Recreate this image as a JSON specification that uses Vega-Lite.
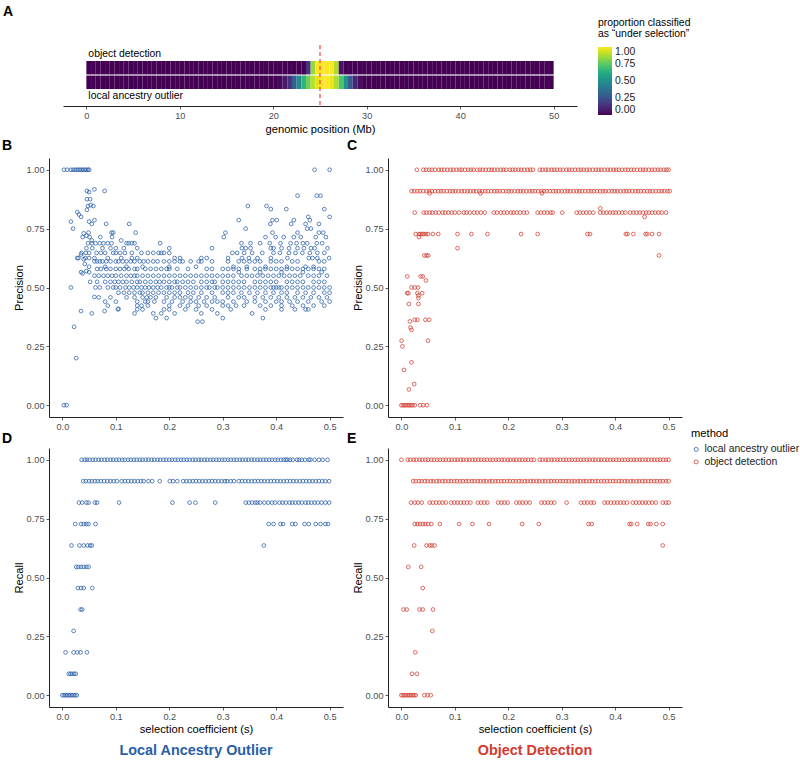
{
"$schema":"https://vega.github.io/schema/vega-lite/v6.json",
"padding":{"left":2,"top":5,"right":0,"bottom":0},
"config":{
 "font":"Liberation Sans",
 "view":{"stroke":null},
 "axis":{"domainColor":"#222","domainWidth":1,"tickColor":"#333","tickSize":3,"tickWidth":0.8,"labelColor":"#4d4d4d","labelFontSize":9.2,"labelPadding":2,"titleFontSize":11.2,"titleFontWeight":"normal","titleColor":"#000","grid":false,"labelFont":"Liberation Sans","titleFont":"Liberation Sans"},
 "axisX":{"titlePadding":2},
 "axisY":{"titlePadding":2},
 "title":{"fontSize":14,"fontWeight":"bold","anchor":"start","frame":"group","baseline":"alphabetic","color":"#000","font":"Liberation Sans"},
 "legend":{"labelFont":"Liberation Sans","titleFont":"Liberation Sans","labelColor":"#222","titleColor":"#000","padding":0}
},
"datasets":{
"heat":[
{"m":"OD","p":0,"v":0},{"m":"OD","p":0.5,"v":0},{"m":"OD","p":1,"v":0},{"m":"OD","p":1.5,"v":0},{"m":"OD","p":2,"v":0},{"m":"OD","p":2.5,"v":0},{"m":"OD","p":3,"v":0},{"m":"OD","p":3.5,"v":0},{"m":"OD","p":4,"v":0},{"m":"OD","p":4.5,"v":0},
{"m":"OD","p":5,"v":0},{"m":"OD","p":5.5,"v":0},{"m":"OD","p":6,"v":0},{"m":"OD","p":6.5,"v":0},{"m":"OD","p":7,"v":0},{"m":"OD","p":7.5,"v":0},{"m":"OD","p":8,"v":0},{"m":"OD","p":8.5,"v":0},{"m":"OD","p":9,"v":0},{"m":"OD","p":9.5,"v":0},
{"m":"OD","p":10,"v":0},{"m":"OD","p":10.5,"v":0},{"m":"OD","p":11,"v":0},{"m":"OD","p":11.5,"v":0},{"m":"OD","p":12,"v":0},{"m":"OD","p":12.5,"v":0},{"m":"OD","p":13,"v":0},{"m":"OD","p":13.5,"v":0},{"m":"OD","p":14,"v":0},{"m":"OD","p":14.5,"v":0},
{"m":"OD","p":15,"v":0},{"m":"OD","p":15.5,"v":0},{"m":"OD","p":16,"v":0},{"m":"OD","p":16.5,"v":0},{"m":"OD","p":17,"v":0},{"m":"OD","p":17.5,"v":0},{"m":"OD","p":18,"v":0},{"m":"OD","p":18.5,"v":0},{"m":"OD","p":19,"v":0},{"m":"OD","p":19.5,"v":0},
{"m":"OD","p":20,"v":0},{"m":"OD","p":20.5,"v":0},{"m":"OD","p":21,"v":0},{"m":"OD","p":21.5,"v":0},{"m":"OD","p":22,"v":0},{"m":"OD","p":22.5,"v":0},{"m":"OD","p":23,"v":0},{"m":"OD","p":23.5,"v":0.15},{"m":"OD","p":24,"v":0.85},{"m":"OD","p":24.5,"v":1},
{"m":"OD","p":25,"v":1},{"m":"OD","p":25.5,"v":1},{"m":"OD","p":26,"v":1},{"m":"OD","p":26.5,"v":0.88},{"m":"OD","p":27,"v":0.05},{"m":"OD","p":27.5,"v":0},{"m":"OD","p":28,"v":0},{"m":"OD","p":28.5,"v":0},{"m":"OD","p":29,"v":0},{"m":"OD","p":29.5,"v":0},
{"m":"OD","p":30,"v":0},{"m":"OD","p":30.5,"v":0},{"m":"OD","p":31,"v":0},{"m":"OD","p":31.5,"v":0},{"m":"OD","p":32,"v":0},{"m":"OD","p":32.5,"v":0},{"m":"OD","p":33,"v":0},{"m":"OD","p":33.5,"v":0},{"m":"OD","p":34,"v":0},{"m":"OD","p":34.5,"v":0},
{"m":"OD","p":35,"v":0},{"m":"OD","p":35.5,"v":0},{"m":"OD","p":36,"v":0},{"m":"OD","p":36.5,"v":0},{"m":"OD","p":37,"v":0},{"m":"OD","p":37.5,"v":0},{"m":"OD","p":38,"v":0},{"m":"OD","p":38.5,"v":0},{"m":"OD","p":39,"v":0},{"m":"OD","p":39.5,"v":0},
{"m":"OD","p":40,"v":0},{"m":"OD","p":40.5,"v":0},{"m":"OD","p":41,"v":0},{"m":"OD","p":41.5,"v":0},{"m":"OD","p":42,"v":0},{"m":"OD","p":42.5,"v":0},{"m":"OD","p":43,"v":0},{"m":"OD","p":43.5,"v":0},{"m":"OD","p":44,"v":0},{"m":"OD","p":44.5,"v":0},
{"m":"OD","p":45,"v":0},{"m":"OD","p":45.5,"v":0},{"m":"OD","p":46,"v":0},{"m":"OD","p":46.5,"v":0},{"m":"OD","p":47,"v":0},{"m":"OD","p":47.5,"v":0},{"m":"OD","p":48,"v":0},{"m":"OD","p":48.5,"v":0},{"m":"OD","p":49,"v":0},{"m":"OD","p":49.5,"v":0},
{"m":"LAO","p":0,"v":0},{"m":"LAO","p":0.5,"v":0},{"m":"LAO","p":1,"v":0},{"m":"LAO","p":1.5,"v":0},{"m":"LAO","p":2,"v":0},{"m":"LAO","p":2.5,"v":0},{"m":"LAO","p":3,"v":0},{"m":"LAO","p":3.5,"v":0},{"m":"LAO","p":4,"v":0},{"m":"LAO","p":4.5,"v":0},
{"m":"LAO","p":5,"v":0},{"m":"LAO","p":5.5,"v":0},{"m":"LAO","p":6,"v":0},{"m":"LAO","p":6.5,"v":0},{"m":"LAO","p":7,"v":0},{"m":"LAO","p":7.5,"v":0},{"m":"LAO","p":8,"v":0},{"m":"LAO","p":8.5,"v":0},{"m":"LAO","p":9,"v":0},{"m":"LAO","p":9.5,"v":0},
{"m":"LAO","p":10,"v":0},{"m":"LAO","p":10.5,"v":0},{"m":"LAO","p":11,"v":0},{"m":"LAO","p":11.5,"v":0},{"m":"LAO","p":12,"v":0},{"m":"LAO","p":12.5,"v":0},{"m":"LAO","p":13,"v":0},{"m":"LAO","p":13.5,"v":0},{"m":"LAO","p":14,"v":0},{"m":"LAO","p":14.5,"v":0},
{"m":"LAO","p":15,"v":0},{"m":"LAO","p":15.5,"v":0},{"m":"LAO","p":16,"v":0},{"m":"LAO","p":16.5,"v":0},{"m":"LAO","p":17,"v":0},{"m":"LAO","p":17.5,"v":0},{"m":"LAO","p":18,"v":0},{"m":"LAO","p":18.5,"v":0},{"m":"LAO","p":19,"v":0},{"m":"LAO","p":19.5,"v":0},
{"m":"LAO","p":20,"v":0},{"m":"LAO","p":20.5,"v":0.02},{"m":"LAO","p":21,"v":0.06},{"m":"LAO","p":21.5,"v":0.14},{"m":"LAO","p":22,"v":0.3},{"m":"LAO","p":22.5,"v":0.48},{"m":"LAO","p":23,"v":0.65},{"m":"LAO","p":23.5,"v":0.78},{"m":"LAO","p":24,"v":0.9},{"m":"LAO","p":24.5,"v":0.96},
{"m":"LAO","p":25,"v":0.99},{"m":"LAO","p":25.5,"v":1},{"m":"LAO","p":26,"v":0.97},{"m":"LAO","p":26.5,"v":0.88},{"m":"LAO","p":27,"v":0.72},{"m":"LAO","p":27.5,"v":0.5},{"m":"LAO","p":28,"v":0.28},{"m":"LAO","p":28.5,"v":0.1},{"m":"LAO","p":29,"v":0.03},{"m":"LAO","p":29.5,"v":0},
{"m":"LAO","p":30,"v":0},{"m":"LAO","p":30.5,"v":0},{"m":"LAO","p":31,"v":0},{"m":"LAO","p":31.5,"v":0},{"m":"LAO","p":32,"v":0},{"m":"LAO","p":32.5,"v":0},{"m":"LAO","p":33,"v":0},{"m":"LAO","p":33.5,"v":0},{"m":"LAO","p":34,"v":0},{"m":"LAO","p":34.5,"v":0},
{"m":"LAO","p":35,"v":0},{"m":"LAO","p":35.5,"v":0},{"m":"LAO","p":36,"v":0},{"m":"LAO","p":36.5,"v":0},{"m":"LAO","p":37,"v":0},{"m":"LAO","p":37.5,"v":0},{"m":"LAO","p":38,"v":0},{"m":"LAO","p":38.5,"v":0},{"m":"LAO","p":39,"v":0},{"m":"LAO","p":39.5,"v":0},
{"m":"LAO","p":40,"v":0},{"m":"LAO","p":40.5,"v":0},{"m":"LAO","p":41,"v":0},{"m":"LAO","p":41.5,"v":0},{"m":"LAO","p":42,"v":0},{"m":"LAO","p":42.5,"v":0},{"m":"LAO","p":43,"v":0},{"m":"LAO","p":43.5,"v":0},{"m":"LAO","p":44,"v":0},{"m":"LAO","p":44.5,"v":0},
{"m":"LAO","p":45,"v":0},{"m":"LAO","p":45.5,"v":0},{"m":"LAO","p":46,"v":0},{"m":"LAO","p":46.5,"v":0},{"m":"LAO","p":47,"v":0},{"m":"LAO","p":47.5,"v":0},{"m":"LAO","p":48,"v":0},{"m":"LAO","p":48.5,"v":0},{"m":"LAO","p":49,"v":0},{"m":"LAO","p":49.5,"v":0}
],
"pl":[
{"s":0.003,"v":1},{"s":0.009,"v":1},{"s":0.016,"v":1},{"s":0.02,"v":1},{"s":0.024,"v":1},{"s":0.027,"v":1},{"s":0.03,"v":1},{"s":0.033,"v":1},{"s":0.036,"v":1},{"s":0.039,"v":1},{"s":0.042,"v":1},{"s":0.045,"v":1},{"s":0.048,"v":1},{"s":0.05,"v":1},{"s":0.472,"v":1},{"s":0.5,"v":1},
{"s":0.003,"v":0},{"s":0.008,"v":0},
{"s":0.026,"v":0.2},{"s":0.022,"v":0.333},{"s":0.016,"v":0.5},{"s":0.035,"v":0.4},{"s":0.055,"v":0.39},{"s":0.079,"v":0.4},{"s":0.105,"v":0.41},
{"s":0.046,"v":0.91},{"s":0.05,"v":0.905},{"s":0.06,"v":0.917},{"s":0.079,"v":0.91},{"s":0.046,"v":0.875},{"s":0.052,"v":0.875},{"s":0.053,"v":0.85},{"s":0.058,"v":0.846},{"s":0.048,"v":0.846},{"s":0.046,"v":0.83},{"s":0.031,"v":0.81},{"s":0.035,"v":0.8},{"s":0.028,"v":0.82},{"s":0.016,"v":0.78},{"s":0.05,"v":0.78},{"s":0.06,"v":0.786},{"s":0.055,"v":0.77},{"s":0.082,"v":0.77},{"s":0.125,"v":0.77},{"s":0.02,"v":0.75},{"s":0.04,"v":0.73},{"s":0.049,"v":0.733},{"s":0.045,"v":0.72},{"s":0.092,"v":0.733},{"s":0.095,"v":0.733},{"s":0.137,"v":0.733},{"s":0.038,"v":0.714},{"s":0.051,"v":0.714},{"s":0.055,"v":0.7},{"s":0.071,"v":0.714},{"s":0.093,"v":0.714},{"s":0.11,"v":0.7},{"s":0.035,"v":0.64},{"s":0.03,"v":0.625},{"s":0.042,"v":0.6},{"s":0.038,"v":0.56},{"s":0.06,"v":0.46},{"s":0.045,"v":0.57},{"s":0.04,"v":0.62},
{"s":0.44,"v":0.89},{"s":0.476,"v":0.89},{"s":0.483,"v":0.89},{"s":0.347,"v":0.846},{"s":0.382,"v":0.846},{"s":0.39,"v":0.833},{"s":0.419,"v":0.833},{"s":0.49,"v":0.833},{"s":0.5,"v":0.8},{"s":0.46,"v":0.8},{"s":0.33,"v":0.786},{"s":0.393,"v":0.786},{"s":0.401,"v":0.786},{"s":0.433,"v":0.786},{"s":0.463,"v":0.786},{"s":0.389,"v":0.77},{"s":0.428,"v":0.77},{"s":0.455,"v":0.77},{"s":0.48,"v":0.77},{"s":0.343,"v":0.75},{"s":0.458,"v":0.75},{"s":0.465,"v":0.75},{"s":0.305,"v":0.733},{"s":0.393,"v":0.733},{"s":0.48,"v":0.733},{"s":0.488,"v":0.733},{"s":0.44,"v":0.733},{"s":0.302,"v":0.714},{"s":0.38,"v":0.714},{"s":0.399,"v":0.714},{"s":0.414,"v":0.714},{"s":0.433,"v":0.714},{"s":0.446,"v":0.714},{"s":0.474,"v":0.714},{"s":0.493,"v":0.714},
{"s":0.048,"v":0.688},{"s":0.055,"v":0.688},{"s":0.062,"v":0.688},{"s":0.07,"v":0.688},{"s":0.077,"v":0.688},{"s":0.085,"v":0.688},{"s":0.092,"v":0.688},{"s":0.12,"v":0.688},{"s":0.124,"v":0.688},{"s":0.13,"v":0.688},{"s":0.135,"v":0.688},{"s":0.183,"v":0.688},{"s":0.335,"v":0.688},{"s":0.352,"v":0.688},{"s":0.37,"v":0.688},{"s":0.388,"v":0.688},{"s":0.408,"v":0.688},{"s":0.427,"v":0.688},{"s":0.438,"v":0.688},{"s":0.45,"v":0.688},{"s":0.458,"v":0.688},{"s":0.476,"v":0.688},{"s":0.486,"v":0.688},
{"s":0.045,"v":0.667},{"s":0.056,"v":0.667},{"s":0.075,"v":0.667},{"s":0.09,"v":0.667},{"s":0.1,"v":0.667},{"s":0.115,"v":0.667},{"s":0.14,"v":0.667},{"s":0.2,"v":0.667},{"s":0.28,"v":0.667},{"s":0.336,"v":0.667},{"s":0.343,"v":0.667},{"s":0.352,"v":0.667},{"s":0.39,"v":0.667},{"s":0.395,"v":0.667},{"s":0.41,"v":0.667},{"s":0.424,"v":0.667},{"s":0.44,"v":0.667},{"s":0.452,"v":0.667},{"s":0.465,"v":0.667},{"s":0.472,"v":0.667},{"s":0.496,"v":0.667},
{"s":0.036,"v":0.647},{"s":0.044,"v":0.647},{"s":0.05,"v":0.647},{"s":0.064,"v":0.647},{"s":0.072,"v":0.647},{"s":0.08,"v":0.647},{"s":0.095,"v":0.647},{"s":0.1,"v":0.647},{"s":0.108,"v":0.647},{"s":0.117,"v":0.647},{"s":0.13,"v":0.647},{"s":0.148,"v":0.647},{"s":0.16,"v":0.647},{"s":0.17,"v":0.647},{"s":0.18,"v":0.647},{"s":0.185,"v":0.647},{"s":0.19,"v":0.647},{"s":0.2,"v":0.647},{"s":0.318,"v":0.647},{"s":0.327,"v":0.647},{"s":0.34,"v":0.647},{"s":0.355,"v":0.647},{"s":0.374,"v":0.647},{"s":0.395,"v":0.647},{"s":0.407,"v":0.647},{"s":0.424,"v":0.647},{"s":0.436,"v":0.647},{"s":0.449,"v":0.647},{"s":0.463,"v":0.647},{"s":0.477,"v":0.647},{"s":0.49,"v":0.647},
{"s":0.028,"v":0.625},{"s":0.043,"v":0.625},{"s":0.05,"v":0.625},{"s":0.06,"v":0.625},{"s":0.085,"v":0.625},{"s":0.11,"v":0.625},{"s":0.13,"v":0.625},{"s":0.14,"v":0.625},{"s":0.21,"v":0.625},{"s":0.22,"v":0.625},{"s":0.26,"v":0.625},{"s":0.27,"v":0.625},{"s":0.31,"v":0.625},{"s":0.336,"v":0.625},{"s":0.349,"v":0.625},{"s":0.365,"v":0.625},{"s":0.39,"v":0.625},{"s":0.421,"v":0.625},{"s":0.461,"v":0.625},{"s":0.468,"v":0.625},{"s":0.477,"v":0.625},{"s":0.499,"v":0.625},
{"s":0.06,"v":0.611},{"s":0.065,"v":0.611},{"s":0.07,"v":0.611},{"s":0.075,"v":0.611},{"s":0.082,"v":0.611},{"s":0.09,"v":0.611},{"s":0.1,"v":0.611},{"s":0.105,"v":0.611},{"s":0.113,"v":0.611},{"s":0.12,"v":0.611},{"s":0.128,"v":0.611},{"s":0.135,"v":0.611},{"s":0.145,"v":0.611},{"s":0.152,"v":0.611},{"s":0.16,"v":0.611},{"s":0.17,"v":0.611},{"s":0.178,"v":0.611},{"s":0.19,"v":0.611},{"s":0.2,"v":0.611},{"s":0.21,"v":0.611},{"s":0.22,"v":0.611},{"s":0.225,"v":0.611},{"s":0.24,"v":0.611},{"s":0.255,"v":0.611},{"s":0.26,"v":0.611},{"s":0.28,"v":0.611},{"s":0.31,"v":0.611},{"s":0.33,"v":0.611},{"s":0.34,"v":0.611},{"s":0.35,"v":0.611},{"s":0.36,"v":0.611},{"s":0.37,"v":0.611},{"s":0.39,"v":0.611},{"s":0.4,"v":0.611},{"s":0.41,"v":0.611},{"s":0.43,"v":0.611},{"s":0.44,"v":0.611},{"s":0.48,"v":0.611},{"s":0.49,"v":0.611},
{"s":0.05,"v":0.588},{"s":0.08,"v":0.588},{"s":0.12,"v":0.588},{"s":0.15,"v":0.588},{"s":0.2,"v":0.588},{"s":0.25,"v":0.588},{"s":0.32,"v":0.588},{"s":0.345,"v":0.588},{"s":0.38,"v":0.588},{"s":0.42,"v":0.588},{"s":0.455,"v":0.588},{"s":0.47,"v":0.588},
{"s":0.065,"v":0.579},{"s":0.072,"v":0.579},{"s":0.082,"v":0.579},{"s":0.09,"v":0.579},{"s":0.1,"v":0.579},{"s":0.108,"v":0.579},{"s":0.116,"v":0.579},{"s":0.124,"v":0.579},{"s":0.135,"v":0.579},{"s":0.14,"v":0.579},{"s":0.155,"v":0.579},{"s":0.165,"v":0.579},{"s":0.175,"v":0.579},{"s":0.185,"v":0.579},{"s":0.195,"v":0.579},{"s":0.2,"v":0.579},{"s":0.215,"v":0.579},{"s":0.235,"v":0.579},{"s":0.27,"v":0.579},{"s":0.28,"v":0.579},{"s":0.3,"v":0.579},{"s":0.31,"v":0.579},{"s":0.32,"v":0.579},{"s":0.33,"v":0.579},{"s":0.345,"v":0.579},{"s":0.36,"v":0.579},{"s":0.37,"v":0.579},{"s":0.38,"v":0.579},{"s":0.39,"v":0.579},{"s":0.4,"v":0.579},{"s":0.41,"v":0.579},{"s":0.42,"v":0.579},{"s":0.43,"v":0.579},{"s":0.44,"v":0.579},{"s":0.45,"v":0.579},{"s":0.46,"v":0.579},{"s":0.47,"v":0.579},{"s":0.48,"v":0.579},{"s":0.49,"v":0.579},
{"s":0.035,"v":0.565},{"s":0.05,"v":0.565},{"s":0.33,"v":0.565},{"s":0.37,"v":0.565},{"s":0.41,"v":0.565},{"s":0.45,"v":0.565},{"s":0.485,"v":0.565},
{"s":0.06,"v":0.55},{"s":0.068,"v":0.55},{"s":0.077,"v":0.55},{"s":0.085,"v":0.55},{"s":0.093,"v":0.55},{"s":0.1,"v":0.55},{"s":0.11,"v":0.55},{"s":0.12,"v":0.55},{"s":0.128,"v":0.55},{"s":0.135,"v":0.55},{"s":0.14,"v":0.55},{"s":0.15,"v":0.55},{"s":0.16,"v":0.55},{"s":0.17,"v":0.55},{"s":0.18,"v":0.55},{"s":0.19,"v":0.55},{"s":0.2,"v":0.55},{"s":0.21,"v":0.55},{"s":0.22,"v":0.55},{"s":0.23,"v":0.55},{"s":0.24,"v":0.55},{"s":0.25,"v":0.55},{"s":0.26,"v":0.55},{"s":0.27,"v":0.55},{"s":0.28,"v":0.55},{"s":0.29,"v":0.55},{"s":0.3,"v":0.55},{"s":0.31,"v":0.55},{"s":0.32,"v":0.55},{"s":0.335,"v":0.55},{"s":0.345,"v":0.55},{"s":0.355,"v":0.55},{"s":0.365,"v":0.55},{"s":0.375,"v":0.55},{"s":0.385,"v":0.55},{"s":0.395,"v":0.55},{"s":0.405,"v":0.55},{"s":0.415,"v":0.55},{"s":0.425,"v":0.55},{"s":0.435,"v":0.55},{"s":0.445,"v":0.55},{"s":0.46,"v":0.55},{"s":0.47,"v":0.55},{"s":0.48,"v":0.55},{"s":0.495,"v":0.55},
{"s":0.052,"v":0.524},{"s":0.065,"v":0.524},{"s":0.08,"v":0.524},{"s":0.09,"v":0.524},{"s":0.098,"v":0.524},{"s":0.105,"v":0.524},{"s":0.113,"v":0.524},{"s":0.12,"v":0.524},{"s":0.13,"v":0.524},{"s":0.14,"v":0.524},{"s":0.145,"v":0.524},{"s":0.155,"v":0.524},{"s":0.165,"v":0.524},{"s":0.175,"v":0.524},{"s":0.182,"v":0.524},{"s":0.19,"v":0.524},{"s":0.2,"v":0.524},{"s":0.21,"v":0.524},{"s":0.215,"v":0.524},{"s":0.225,"v":0.524},{"s":0.235,"v":0.524},{"s":0.245,"v":0.524},{"s":0.26,"v":0.524},{"s":0.27,"v":0.524},{"s":0.28,"v":0.524},{"s":0.285,"v":0.524},{"s":0.3,"v":0.524},{"s":0.31,"v":0.524},{"s":0.32,"v":0.524},{"s":0.33,"v":0.524},{"s":0.34,"v":0.524},{"s":0.36,"v":0.524},{"s":0.37,"v":0.524},{"s":0.38,"v":0.524},{"s":0.39,"v":0.524},{"s":0.4,"v":0.524},{"s":0.42,"v":0.524},{"s":0.43,"v":0.524},{"s":0.44,"v":0.524},{"s":0.45,"v":0.524},{"s":0.47,"v":0.524},{"s":0.48,"v":0.524},{"s":0.49,"v":0.524},
{"s":0.062,"v":0.5},{"s":0.07,"v":0.5},{"s":0.085,"v":0.5},{"s":0.095,"v":0.5},{"s":0.1,"v":0.5},{"s":0.108,"v":0.5},{"s":0.118,"v":0.5},{"s":0.125,"v":0.5},{"s":0.133,"v":0.5},{"s":0.14,"v":0.5},{"s":0.148,"v":0.5},{"s":0.155,"v":0.5},{"s":0.162,"v":0.5},{"s":0.17,"v":0.5},{"s":0.178,"v":0.5},{"s":0.185,"v":0.5},{"s":0.195,"v":0.5},{"s":0.2,"v":0.5},{"s":0.205,"v":0.5},{"s":0.215,"v":0.5},{"s":0.22,"v":0.5},{"s":0.23,"v":0.5},{"s":0.24,"v":0.5},{"s":0.25,"v":0.5},{"s":0.26,"v":0.5},{"s":0.27,"v":0.5},{"s":0.275,"v":0.5},{"s":0.285,"v":0.5},{"s":0.29,"v":0.5},{"s":0.3,"v":0.5},{"s":0.31,"v":0.5},{"s":0.32,"v":0.5},{"s":0.33,"v":0.5},{"s":0.34,"v":0.5},{"s":0.35,"v":0.5},{"s":0.36,"v":0.5},{"s":0.37,"v":0.5},{"s":0.38,"v":0.5},{"s":0.39,"v":0.5},{"s":0.395,"v":0.5},{"s":0.4,"v":0.5},{"s":0.405,"v":0.5},{"s":0.41,"v":0.5},{"s":0.42,"v":0.5},{"s":0.43,"v":0.5},{"s":0.44,"v":0.5},{"s":0.45,"v":0.5},{"s":0.46,"v":0.5},{"s":0.47,"v":0.5},{"s":0.48,"v":0.5},{"s":0.49,"v":0.5},{"s":0.5,"v":0.5},
{"s":0.105,"v":0.478},{"s":0.115,"v":0.478},{"s":0.125,"v":0.478},{"s":0.135,"v":0.478},{"s":0.145,"v":0.478},{"s":0.15,"v":0.478},{"s":0.16,"v":0.478},{"s":0.17,"v":0.478},{"s":0.18,"v":0.478},{"s":0.19,"v":0.478},{"s":0.2,"v":0.478},{"s":0.21,"v":0.478},{"s":0.22,"v":0.478},{"s":0.235,"v":0.478},{"s":0.245,"v":0.478},{"s":0.26,"v":0.478},{"s":0.28,"v":0.478},{"s":0.3,"v":0.478},{"s":0.31,"v":0.478},{"s":0.32,"v":0.478},{"s":0.335,"v":0.478},{"s":0.35,"v":0.478},{"s":0.365,"v":0.478},{"s":0.38,"v":0.478},{"s":0.395,"v":0.478},{"s":0.41,"v":0.478},{"s":0.42,"v":0.478},{"s":0.44,"v":0.478},{"s":0.455,"v":0.478},{"s":0.47,"v":0.478},{"s":0.49,"v":0.478},{"s":0.5,"v":0.478},
{"s":0.068,"v":0.458},{"s":0.09,"v":0.458},{"s":0.12,"v":0.458},{"s":0.135,"v":0.458},{"s":0.15,"v":0.458},{"s":0.158,"v":0.458},{"s":0.165,"v":0.458},{"s":0.175,"v":0.458},{"s":0.195,"v":0.458},{"s":0.21,"v":0.458},{"s":0.22,"v":0.458},{"s":0.23,"v":0.458},{"s":0.24,"v":0.458},{"s":0.255,"v":0.458},{"s":0.27,"v":0.458},{"s":0.285,"v":0.458},{"s":0.31,"v":0.458},{"s":0.33,"v":0.458},{"s":0.34,"v":0.458},{"s":0.36,"v":0.458},{"s":0.375,"v":0.458},{"s":0.39,"v":0.458},{"s":0.405,"v":0.458},{"s":0.42,"v":0.458},{"s":0.435,"v":0.458},{"s":0.45,"v":0.458},{"s":0.465,"v":0.458},{"s":0.48,"v":0.458},{"s":0.495,"v":0.458},
{"s":0.08,"v":0.44},{"s":0.1,"v":0.44},{"s":0.14,"v":0.44},{"s":0.155,"v":0.44},{"s":0.16,"v":0.44},{"s":0.172,"v":0.44},{"s":0.19,"v":0.44},{"s":0.205,"v":0.44},{"s":0.225,"v":0.44},{"s":0.24,"v":0.44},{"s":0.25,"v":0.44},{"s":0.265,"v":0.44},{"s":0.28,"v":0.44},{"s":0.29,"v":0.44},{"s":0.3,"v":0.44},{"s":0.32,"v":0.44},{"s":0.345,"v":0.44},{"s":0.36,"v":0.44},{"s":0.38,"v":0.44},{"s":0.4,"v":0.44},{"s":0.41,"v":0.44},{"s":0.425,"v":0.44},{"s":0.44,"v":0.44},{"s":0.46,"v":0.44},{"s":0.485,"v":0.44},{"s":0.5,"v":0.44},
{"s":0.085,"v":0.423},{"s":0.14,"v":0.423},{"s":0.148,"v":0.423},{"s":0.16,"v":0.423},{"s":0.2,"v":0.423},{"s":0.22,"v":0.423},{"s":0.235,"v":0.423},{"s":0.255,"v":0.423},{"s":0.27,"v":0.423},{"s":0.3,"v":0.423},{"s":0.31,"v":0.423},{"s":0.325,"v":0.423},{"s":0.34,"v":0.423},{"s":0.37,"v":0.423},{"s":0.39,"v":0.423},{"s":0.41,"v":0.423},{"s":0.43,"v":0.423},{"s":0.45,"v":0.423},{"s":0.47,"v":0.423},{"s":0.49,"v":0.423},
{"s":0.104,"v":0.407},{"s":0.14,"v":0.407},{"s":0.15,"v":0.407},{"s":0.19,"v":0.407},{"s":0.2,"v":0.407},{"s":0.23,"v":0.407},{"s":0.25,"v":0.407},{"s":0.28,"v":0.407},{"s":0.315,"v":0.407},{"s":0.38,"v":0.407},{"s":0.41,"v":0.407},{"s":0.435,"v":0.407},{"s":0.455,"v":0.407},{"s":0.46,"v":0.407},
{"s":0.135,"v":0.39},{"s":0.17,"v":0.39},{"s":0.185,"v":0.39},{"s":0.21,"v":0.39},{"s":0.26,"v":0.39},{"s":0.29,"v":0.39},{"s":0.355,"v":0.39},
{"s":0.175,"v":0.37},{"s":0.195,"v":0.37},{"s":0.3,"v":0.37},{"s":0.375,"v":0.37},{"s":0.253,"v":0.355},{"s":0.262,"v":0.355}
],
"po":[
{"s":0.029,"v":1},{"s":0.041,"v":1},{"s":0.046,"v":1},{"s":0.052,"v":1},{"s":0.057,"v":1},{"s":0.063,"v":1},{"s":0.07,"v":1},{"s":0.075,"v":1},{"s":0.08,"v":1},{"s":0.086,"v":1},{"s":0.092,"v":1},{"s":0.097,"v":1},{"s":0.103,"v":1},{"s":0.109,"v":1},{"s":0.113,"v":1},{"s":0.119,"v":1},{"s":0.125,"v":1},{"s":0.13,"v":1},{"s":0.135,"v":1},{"s":0.142,"v":1},{"s":0.147,"v":1},{"s":0.152,"v":1},{"s":0.158,"v":1},{"s":0.164,"v":1},{"s":0.169,"v":1},{"s":0.174,"v":1},{"s":0.18,"v":1},{"s":0.186,"v":1},{"s":0.191,"v":1},{"s":0.196,"v":1},{"s":0.203,"v":1},{"s":0.208,"v":1},{"s":0.213,"v":1},{"s":0.219,"v":1},{"s":0.224,"v":1},{"s":0.23,"v":1},{"s":0.236,"v":1},{"s":0.241,"v":1},{"s":0.246,"v":1},{"s":0.259,"v":1},{"s":0.264,"v":1},{"s":0.27,"v":1},{"s":0.275,"v":1},{"s":0.281,"v":1},{"s":0.286,"v":1},{"s":0.291,"v":1},{"s":0.297,"v":1},{"s":0.302,"v":1},{"s":0.309,"v":1},{"s":0.314,"v":1},{"s":0.319,"v":1},{"s":0.325,"v":1},{"s":0.331,"v":1},{"s":0.336,"v":1},{"s":0.341,"v":1},{"s":0.347,"v":1},{"s":0.352,"v":1},{"s":0.358,"v":1},{"s":0.364,"v":1},{"s":0.369,"v":1},{"s":0.374,"v":1},{"s":0.38,"v":1},{"s":0.386,"v":1},{"s":0.391,"v":1},{"s":0.397,"v":1},{"s":0.402,"v":1},{"s":0.407,"v":1},{"s":0.413,"v":1},{"s":0.419,"v":1},{"s":0.424,"v":1},{"s":0.43,"v":1},{"s":0.435,"v":1},{"s":0.441,"v":1},{"s":0.447,"v":1},{"s":0.452,"v":1},{"s":0.457,"v":1},{"s":0.463,"v":1},{"s":0.469,"v":1},{"s":0.474,"v":1},{"s":0.48,"v":1},{"s":0.485,"v":1},{"s":0.491,"v":1},{"s":0.496,"v":1},{"s":0.5,"v":1},
{"s":0.019,"v":0.909},{"s":0.024,"v":0.909},{"s":0.03,"v":0.909},{"s":0.035,"v":0.909},{"s":0.041,"v":0.909},{"s":0.047,"v":0.909},{"s":0.052,"v":0.909},{"s":0.057,"v":0.909},{"s":0.063,"v":0.909},{"s":0.069,"v":0.909},{"s":0.074,"v":0.909},{"s":0.079,"v":0.909},{"s":0.085,"v":0.909},{"s":0.091,"v":0.909},{"s":0.096,"v":0.909},{"s":0.101,"v":0.909},{"s":0.107,"v":0.909},{"s":0.113,"v":0.909},{"s":0.118,"v":0.909},{"s":0.124,"v":0.909},{"s":0.129,"v":0.909},{"s":0.135,"v":0.909},{"s":0.14,"v":0.909},{"s":0.146,"v":0.909},{"s":0.151,"v":0.909},{"s":0.157,"v":0.909},{"s":0.162,"v":0.909},{"s":0.168,"v":0.909},{"s":0.174,"v":0.909},{"s":0.179,"v":0.909},{"s":0.184,"v":0.909},{"s":0.19,"v":0.909},{"s":0.196,"v":0.909},{"s":0.201,"v":0.909},{"s":0.206,"v":0.909},{"s":0.212,"v":0.909},{"s":0.218,"v":0.909},{"s":0.223,"v":0.909},{"s":0.228,"v":0.909},{"s":0.234,"v":0.909},{"s":0.24,"v":0.909},{"s":0.245,"v":0.909},{"s":0.25,"v":0.909},{"s":0.256,"v":0.909},{"s":0.262,"v":0.909},{"s":0.267,"v":0.909},{"s":0.272,"v":0.909},{"s":0.278,"v":0.909},{"s":0.284,"v":0.909},{"s":0.289,"v":0.909},{"s":0.294,"v":0.909},{"s":0.3,"v":0.909},{"s":0.306,"v":0.909},{"s":0.311,"v":0.909},{"s":0.316,"v":0.909},{"s":0.322,"v":0.909},{"s":0.328,"v":0.909},{"s":0.333,"v":0.909},{"s":0.338,"v":0.909},{"s":0.344,"v":0.909},{"s":0.35,"v":0.909},{"s":0.355,"v":0.909},{"s":0.36,"v":0.909},{"s":0.366,"v":0.909},{"s":0.372,"v":0.909},{"s":0.377,"v":0.909},{"s":0.382,"v":0.909},{"s":0.388,"v":0.909},{"s":0.394,"v":0.909},{"s":0.399,"v":0.909},{"s":0.404,"v":0.909},{"s":0.41,"v":0.909},{"s":0.416,"v":0.909},{"s":0.421,"v":0.909},{"s":0.426,"v":0.909},{"s":0.432,"v":0.909},{"s":0.438,"v":0.909},{"s":0.443,"v":0.909},{"s":0.448,"v":0.909},{"s":0.454,"v":0.909},{"s":0.46,"v":0.909},{"s":0.465,"v":0.909},{"s":0.47,"v":0.909},{"s":0.476,"v":0.909},{"s":0.482,"v":0.909},{"s":0.487,"v":0.909},{"s":0.492,"v":0.909},{"s":0.498,"v":0.909},{"s":0.502,"v":0.909},
{"s":0.053,"v":0.9},{"s":0.148,"v":0.9},{"s":0.263,"v":0.9},{"s":0.372,"v":0.836},{"s":0.455,"v":0.8},
{"s":0.025,"v":0.818},{"s":0.042,"v":0.818},{"s":0.047,"v":0.818},{"s":0.053,"v":0.818},{"s":0.058,"v":0.818},{"s":0.064,"v":0.818},{"s":0.07,"v":0.818},{"s":0.077,"v":0.818},{"s":0.082,"v":0.818},{"s":0.088,"v":0.818},{"s":0.094,"v":0.818},{"s":0.1,"v":0.818},{"s":0.108,"v":0.818},{"s":0.117,"v":0.818},{"s":0.122,"v":0.818},{"s":0.128,"v":0.818},{"s":0.136,"v":0.818},{"s":0.142,"v":0.818},{"s":0.149,"v":0.818},{"s":0.156,"v":0.818},{"s":0.173,"v":0.818},{"s":0.179,"v":0.818},{"s":0.186,"v":0.818},{"s":0.192,"v":0.818},{"s":0.198,"v":0.818},{"s":0.205,"v":0.818},{"s":0.21,"v":0.818},{"s":0.216,"v":0.818},{"s":0.222,"v":0.818},{"s":0.229,"v":0.818},{"s":0.235,"v":0.818},{"s":0.255,"v":0.818},{"s":0.261,"v":0.818},{"s":0.267,"v":0.818},{"s":0.273,"v":0.818},{"s":0.279,"v":0.818},{"s":0.283,"v":0.818},{"s":0.301,"v":0.818},{"s":0.328,"v":0.818},{"s":0.334,"v":0.818},{"s":0.34,"v":0.818},{"s":0.346,"v":0.818},{"s":0.352,"v":0.818},{"s":0.359,"v":0.818},{"s":0.372,"v":0.818},{"s":0.378,"v":0.818},{"s":0.384,"v":0.818},{"s":0.39,"v":0.818},{"s":0.396,"v":0.818},{"s":0.401,"v":0.818},{"s":0.407,"v":0.818},{"s":0.413,"v":0.818},{"s":0.419,"v":0.818},{"s":0.428,"v":0.818},{"s":0.434,"v":0.818},{"s":0.44,"v":0.818},{"s":0.446,"v":0.818},{"s":0.452,"v":0.818},{"s":0.458,"v":0.818},{"s":0.463,"v":0.818},{"s":0.469,"v":0.818},{"s":0.475,"v":0.818},{"s":0.481,"v":0.818},{"s":0.487,"v":0.818},{"s":0.495,"v":0.818},
{"s":0.027,"v":0.727},{"s":0.033,"v":0.727},{"s":0.036,"v":0.727},{"s":0.039,"v":0.727},{"s":0.042,"v":0.727},{"s":0.046,"v":0.727},{"s":0.05,"v":0.727},{"s":0.059,"v":0.727},{"s":0.069,"v":0.727},{"s":0.105,"v":0.727},{"s":0.131,"v":0.727},{"s":0.161,"v":0.727},{"s":0.224,"v":0.727},{"s":0.255,"v":0.727},{"s":0.348,"v":0.727},{"s":0.353,"v":0.727},{"s":0.42,"v":0.727},{"s":0.423,"v":0.727},{"s":0.434,"v":0.727},{"s":0.457,"v":0.727},{"s":0.46,"v":0.727},{"s":0.469,"v":0.727},{"s":0.482,"v":0.727},{"s":0.033,"v":0.714},
{"s":0.105,"v":0.667},{"s":0.043,"v":0.636},{"s":0.047,"v":0.636},{"s":0.05,"v":0.636},{"s":0.482,"v":0.636},
{"s":0.011,"v":0.547},{"s":0.036,"v":0.547},{"s":0.04,"v":0.547},{"s":0.046,"v":0.53},{"s":0.019,"v":0.5},{"s":0.025,"v":0.5},{"s":0.031,"v":0.5},{"s":0.011,"v":0.476},{"s":0.013,"v":0.476},{"s":0.03,"v":0.476},{"s":0.039,"v":0.476},{"s":0.032,"v":0.466},{"s":0.032,"v":0.455},{"s":0.014,"v":0.43},{"s":0.032,"v":0.43},{"s":0.025,"v":0.363},{"s":0.03,"v":0.363},{"s":0.045,"v":0.363},{"s":0.052,"v":0.363},{"s":0.016,"v":0.356},{"s":0.017,"v":0.33},{"s":0.019,"v":0.32},{"s":0.0005,"v":0.274},{"s":0.05,"v":0.274},{"s":0.002,"v":0.25},{"s":0.019,"v":0.182},{"s":0.005,"v":0.15},{"s":0.024,"v":0.09},{"s":0.014,"v":0.067},
{"s":0,"v":0},{"s":0.003,"v":0},{"s":0.006,"v":0},{"s":0.009,"v":0},{"s":0.012,"v":0},{"s":0.015,"v":0},{"s":0.018,"v":0},{"s":0.021,"v":0},{"s":0.025,"v":0},{"s":0.035,"v":0},{"s":0.041,"v":0},{"s":0.048,"v":0}
],
"rl":[
{"s":0.036,"v":1},{"s":0.042,"v":1},{"s":0.046,"v":1},{"s":0.051,"v":1},{"s":0.057,"v":1},{"s":0.062,"v":1},{"s":0.068,"v":1},{"s":0.073,"v":1},{"s":0.079,"v":1},{"s":0.084,"v":1},{"s":0.09,"v":1},{"s":0.095,"v":1},{"s":0.101,"v":1},{"s":0.106,"v":1},{"s":0.112,"v":1},{"s":0.117,"v":1},{"s":0.123,"v":1},{"s":0.128,"v":1},{"s":0.134,"v":1},{"s":0.139,"v":1},{"s":0.145,"v":1},{"s":0.15,"v":1},{"s":0.156,"v":1},{"s":0.161,"v":1},{"s":0.167,"v":1},{"s":0.172,"v":1},{"s":0.178,"v":1},{"s":0.183,"v":1},{"s":0.189,"v":1},{"s":0.194,"v":1},{"s":0.2,"v":1},{"s":0.205,"v":1},{"s":0.211,"v":1},{"s":0.216,"v":1},{"s":0.222,"v":1},{"s":0.227,"v":1},{"s":0.233,"v":1},{"s":0.238,"v":1},{"s":0.244,"v":1},{"s":0.249,"v":1},{"s":0.255,"v":1},{"s":0.26,"v":1},{"s":0.266,"v":1},{"s":0.271,"v":1},{"s":0.277,"v":1},{"s":0.282,"v":1},{"s":0.288,"v":1},{"s":0.293,"v":1},{"s":0.299,"v":1},{"s":0.304,"v":1},{"s":0.31,"v":1},{"s":0.315,"v":1},{"s":0.321,"v":1},{"s":0.326,"v":1},{"s":0.332,"v":1},{"s":0.337,"v":1},{"s":0.343,"v":1},{"s":0.348,"v":1},{"s":0.354,"v":1},{"s":0.359,"v":1},{"s":0.365,"v":1},{"s":0.37,"v":1},{"s":0.376,"v":1},{"s":0.381,"v":1},{"s":0.387,"v":1},{"s":0.392,"v":1},{"s":0.398,"v":1},{"s":0.403,"v":1},{"s":0.409,"v":1},{"s":0.414,"v":1},{"s":0.418,"v":1},{"s":0.421,"v":1},{"s":0.426,"v":1},{"s":0.431,"v":1},{"s":0.439,"v":1},{"s":0.443,"v":1},{"s":0.448,"v":1},{"s":0.454,"v":1},{"s":0.461,"v":1},{"s":0.464,"v":1},{"s":0.472,"v":1},{"s":0.48,"v":1},{"s":0.487,"v":1},{"s":0.496,"v":1},
{"s":0.039,"v":0.909},{"s":0.044,"v":0.909},{"s":0.05,"v":0.909},{"s":0.055,"v":0.909},{"s":0.061,"v":0.909},{"s":0.066,"v":0.909},{"s":0.072,"v":0.909},{"s":0.078,"v":0.909},{"s":0.084,"v":0.909},{"s":0.09,"v":0.909},{"s":0.096,"v":0.909},{"s":0.102,"v":0.909},{"s":0.111,"v":0.909},{"s":0.117,"v":0.909},{"s":0.123,"v":0.909},{"s":0.129,"v":0.909},{"s":0.135,"v":0.909},{"s":0.141,"v":0.909},{"s":0.147,"v":0.909},{"s":0.152,"v":0.909},{"s":0.161,"v":0.909},{"s":0.168,"v":0.909},{"s":0.182,"v":0.909},{"s":0.201,"v":0.909},{"s":0.207,"v":0.909},{"s":0.215,"v":0.909},{"s":0.226,"v":0.909},{"s":0.232,"v":0.909},{"s":0.238,"v":0.909},{"s":0.244,"v":0.909},{"s":0.25,"v":0.909},{"s":0.256,"v":0.909},{"s":0.262,"v":0.909},{"s":0.268,"v":0.909},{"s":0.274,"v":0.909},{"s":0.28,"v":0.909},{"s":0.286,"v":0.909},{"s":0.292,"v":0.909},{"s":0.298,"v":0.909},{"s":0.304,"v":0.909},{"s":0.308,"v":0.909},{"s":0.315,"v":0.909},{"s":0.321,"v":0.909},{"s":0.33,"v":0.909},{"s":0.336,"v":0.909},{"s":0.342,"v":0.909},{"s":0.348,"v":0.909},{"s":0.354,"v":0.909},{"s":0.36,"v":0.909},{"s":0.366,"v":0.909},{"s":0.372,"v":0.909},{"s":0.378,"v":0.909},{"s":0.384,"v":0.909},{"s":0.39,"v":0.909},{"s":0.396,"v":0.909},{"s":0.402,"v":0.909},{"s":0.408,"v":0.909},{"s":0.414,"v":0.909},{"s":0.42,"v":0.909},{"s":0.426,"v":0.909},{"s":0.432,"v":0.909},{"s":0.438,"v":0.909},{"s":0.444,"v":0.909},{"s":0.45,"v":0.909},{"s":0.456,"v":0.909},{"s":0.462,"v":0.909},{"s":0.468,"v":0.909},{"s":0.474,"v":0.909},{"s":0.48,"v":0.909},{"s":0.486,"v":0.909},{"s":0.492,"v":0.909},{"s":0.499,"v":0.909},
{"s":0.031,"v":0.818},{"s":0.037,"v":0.818},{"s":0.045,"v":0.818},{"s":0.049,"v":0.818},{"s":0.061,"v":0.818},{"s":0.065,"v":0.818},{"s":0.106,"v":0.818},{"s":0.206,"v":0.818},{"s":0.238,"v":0.818},{"s":0.249,"v":0.818},{"s":0.286,"v":0.818},{"s":0.343,"v":0.818},{"s":0.349,"v":0.818},{"s":0.355,"v":0.818},{"s":0.361,"v":0.818},{"s":0.365,"v":0.818},{"s":0.37,"v":0.818},{"s":0.378,"v":0.818},{"s":0.385,"v":0.818},{"s":0.392,"v":0.818},{"s":0.398,"v":0.818},{"s":0.406,"v":0.818},{"s":0.412,"v":0.818},{"s":0.418,"v":0.818},{"s":0.425,"v":0.818},{"s":0.43,"v":0.818},{"s":0.436,"v":0.818},{"s":0.442,"v":0.818},{"s":0.448,"v":0.818},{"s":0.455,"v":0.818},{"s":0.46,"v":0.818},{"s":0.466,"v":0.818},{"s":0.472,"v":0.818},{"s":0.478,"v":0.818},{"s":0.485,"v":0.818},{"s":0.492,"v":0.818},{"s":0.499,"v":0.818},
{"s":0.024,"v":0.727},{"s":0.035,"v":0.727},{"s":0.04,"v":0.727},{"s":0.045,"v":0.727},{"s":0.049,"v":0.727},{"s":0.062,"v":0.727},{"s":0.386,"v":0.727},{"s":0.395,"v":0.727},{"s":0.408,"v":0.727},{"s":0.413,"v":0.727},{"s":0.43,"v":0.727},{"s":0.436,"v":0.727},{"s":0.453,"v":0.727},{"s":0.461,"v":0.727},{"s":0.474,"v":0.727},{"s":0.483,"v":0.727},{"s":0.492,"v":0.727},{"s":0.497,"v":0.727},
{"s":0.017,"v":0.636},{"s":0.032,"v":0.636},{"s":0.04,"v":0.636},{"s":0.047,"v":0.636},{"s":0.052,"v":0.636},{"s":0.055,"v":0.636},{"s":0.377,"v":0.636},
{"s":0.026,"v":0.545},{"s":0.03,"v":0.545},{"s":0.035,"v":0.545},{"s":0.04,"v":0.545},{"s":0.045,"v":0.545},{"s":0.049,"v":0.545},
{"s":0.029,"v":0.455},{"s":0.035,"v":0.455},{"s":0.04,"v":0.455},{"s":0.056,"v":0.455},{"s":0.034,"v":0.364},{"s":0.037,"v":0.364},{"s":0.021,"v":0.273},
{"s":0.006,"v":0.182},{"s":0.021,"v":0.182},{"s":0.028,"v":0.182},{"s":0.034,"v":0.182},{"s":0.046,"v":0.182},
{"s":0.012,"v":0.091},{"s":0.015,"v":0.091},{"s":0.018,"v":0.091},{"s":0.022,"v":0.091},{"s":0.025,"v":0.091},
{"s":0,"v":0},{"s":0.003,"v":0},{"s":0.006,"v":0},{"s":0.009,"v":0},{"s":0.012,"v":0},{"s":0.015,"v":0},{"s":0.018,"v":0},{"s":0.021,"v":0},{"s":0.024,"v":0},{"s":0.027,"v":0}
],
"ro":[
{"s":0,"v":1},{"s":0.012,"v":1},{"s":0.017,"v":1},{"s":0.023,"v":1},{"s":0.028,"v":1},{"s":0.034,"v":1},{"s":0.039,"v":1},{"s":0.045,"v":1},{"s":0.05,"v":1},{"s":0.056,"v":1},{"s":0.061,"v":1},{"s":0.067,"v":1},{"s":0.072,"v":1},{"s":0.078,"v":1},{"s":0.083,"v":1},{"s":0.089,"v":1},{"s":0.094,"v":1},{"s":0.1,"v":1},{"s":0.105,"v":1},{"s":0.111,"v":1},{"s":0.116,"v":1},{"s":0.122,"v":1},{"s":0.127,"v":1},{"s":0.133,"v":1},{"s":0.138,"v":1},{"s":0.144,"v":1},{"s":0.149,"v":1},{"s":0.155,"v":1},{"s":0.16,"v":1},{"s":0.166,"v":1},{"s":0.171,"v":1},{"s":0.177,"v":1},{"s":0.182,"v":1},{"s":0.188,"v":1},{"s":0.193,"v":1},{"s":0.199,"v":1},{"s":0.204,"v":1},{"s":0.21,"v":1},{"s":0.215,"v":1},{"s":0.221,"v":1},{"s":0.226,"v":1},{"s":0.232,"v":1},{"s":0.237,"v":1},{"s":0.243,"v":1},{"s":0.248,"v":1},{"s":0.259,"v":1},{"s":0.264,"v":1},{"s":0.27,"v":1},{"s":0.275,"v":1},{"s":0.281,"v":1},{"s":0.286,"v":1},{"s":0.292,"v":1},{"s":0.297,"v":1},{"s":0.303,"v":1},{"s":0.308,"v":1},{"s":0.314,"v":1},{"s":0.319,"v":1},{"s":0.325,"v":1},{"s":0.33,"v":1},{"s":0.336,"v":1},{"s":0.341,"v":1},{"s":0.347,"v":1},{"s":0.352,"v":1},{"s":0.358,"v":1},{"s":0.363,"v":1},{"s":0.369,"v":1},{"s":0.374,"v":1},{"s":0.38,"v":1},{"s":0.385,"v":1},{"s":0.391,"v":1},{"s":0.396,"v":1},{"s":0.402,"v":1},{"s":0.407,"v":1},{"s":0.413,"v":1},{"s":0.418,"v":1},{"s":0.424,"v":1},{"s":0.429,"v":1},{"s":0.435,"v":1},{"s":0.44,"v":1},{"s":0.446,"v":1},{"s":0.451,"v":1},{"s":0.457,"v":1},{"s":0.462,"v":1},{"s":0.468,"v":1},{"s":0.473,"v":1},{"s":0.479,"v":1},{"s":0.484,"v":1},{"s":0.49,"v":1},{"s":0.495,"v":1},{"s":0.5,"v":1},
{"s":0.022,"v":0.909},{"s":0.027,"v":0.909},{"s":0.033,"v":0.909},{"s":0.038,"v":0.909},{"s":0.044,"v":0.909},{"s":0.049,"v":0.909},{"s":0.055,"v":0.909},{"s":0.06,"v":0.909},{"s":0.066,"v":0.909},{"s":0.071,"v":0.909},{"s":0.077,"v":0.909},{"s":0.082,"v":0.909},{"s":0.088,"v":0.909},{"s":0.093,"v":0.909},{"s":0.099,"v":0.909},{"s":0.104,"v":0.909},{"s":0.11,"v":0.909},{"s":0.115,"v":0.909},{"s":0.121,"v":0.909},{"s":0.126,"v":0.909},{"s":0.132,"v":0.909},{"s":0.137,"v":0.909},{"s":0.143,"v":0.909},{"s":0.148,"v":0.909},{"s":0.154,"v":0.909},{"s":0.159,"v":0.909},{"s":0.165,"v":0.909},{"s":0.17,"v":0.909},{"s":0.176,"v":0.909},{"s":0.181,"v":0.909},{"s":0.187,"v":0.909},{"s":0.192,"v":0.909},{"s":0.198,"v":0.909},{"s":0.203,"v":0.909},{"s":0.209,"v":0.909},{"s":0.214,"v":0.909},{"s":0.22,"v":0.909},{"s":0.225,"v":0.909},{"s":0.231,"v":0.909},{"s":0.236,"v":0.909},{"s":0.242,"v":0.909},{"s":0.247,"v":0.909},{"s":0.253,"v":0.909},{"s":0.258,"v":0.909},{"s":0.264,"v":0.909},{"s":0.269,"v":0.909},{"s":0.275,"v":0.909},{"s":0.28,"v":0.909},{"s":0.286,"v":0.909},{"s":0.291,"v":0.909},{"s":0.297,"v":0.909},{"s":0.302,"v":0.909},{"s":0.308,"v":0.909},{"s":0.313,"v":0.909},{"s":0.319,"v":0.909},{"s":0.324,"v":0.909},{"s":0.33,"v":0.909},{"s":0.335,"v":0.909},{"s":0.341,"v":0.909},{"s":0.346,"v":0.909},{"s":0.352,"v":0.909},{"s":0.357,"v":0.909},{"s":0.363,"v":0.909},{"s":0.368,"v":0.909},{"s":0.374,"v":0.909},{"s":0.379,"v":0.909},{"s":0.385,"v":0.909},{"s":0.39,"v":0.909},{"s":0.396,"v":0.909},{"s":0.401,"v":0.909},{"s":0.407,"v":0.909},{"s":0.412,"v":0.909},{"s":0.418,"v":0.909},{"s":0.423,"v":0.909},{"s":0.429,"v":0.909},{"s":0.434,"v":0.909},{"s":0.44,"v":0.909},{"s":0.445,"v":0.909},{"s":0.451,"v":0.909},{"s":0.456,"v":0.909},{"s":0.462,"v":0.909},{"s":0.467,"v":0.909},{"s":0.473,"v":0.909},{"s":0.478,"v":0.909},{"s":0.484,"v":0.909},{"s":0.489,"v":0.909},{"s":0.495,"v":0.909},{"s":0.5,"v":0.909},
{"s":0.018,"v":0.818},{"s":0.025,"v":0.818},{"s":0.031,"v":0.818},{"s":0.038,"v":0.818},{"s":0.053,"v":0.818},{"s":0.059,"v":0.818},{"s":0.065,"v":0.818},{"s":0.071,"v":0.818},{"s":0.077,"v":0.818},{"s":0.083,"v":0.818},{"s":0.093,"v":0.818},{"s":0.099,"v":0.818},{"s":0.105,"v":0.818},{"s":0.111,"v":0.818},{"s":0.117,"v":0.818},{"s":0.123,"v":0.818},{"s":0.129,"v":0.818},{"s":0.143,"v":0.818},{"s":0.149,"v":0.818},{"s":0.155,"v":0.818},{"s":0.161,"v":0.818},{"s":0.181,"v":0.818},{"s":0.187,"v":0.818},{"s":0.193,"v":0.818},{"s":0.199,"v":0.818},{"s":0.215,"v":0.818},{"s":0.221,"v":0.818},{"s":0.227,"v":0.818},{"s":0.233,"v":0.818},{"s":0.24,"v":0.818},{"s":0.262,"v":0.818},{"s":0.268,"v":0.818},{"s":0.274,"v":0.818},{"s":0.28,"v":0.818},{"s":0.286,"v":0.818},{"s":0.309,"v":0.818},{"s":0.336,"v":0.818},{"s":0.342,"v":0.818},{"s":0.348,"v":0.818},{"s":0.355,"v":0.818},{"s":0.36,"v":0.818},{"s":0.38,"v":0.818},{"s":0.386,"v":0.818},{"s":0.392,"v":0.818},{"s":0.398,"v":0.818},{"s":0.404,"v":0.818},{"s":0.41,"v":0.818},{"s":0.416,"v":0.818},{"s":0.422,"v":0.818},{"s":0.433,"v":0.818},{"s":0.439,"v":0.818},{"s":0.445,"v":0.818},{"s":0.451,"v":0.818},{"s":0.457,"v":0.818},{"s":0.463,"v":0.818},{"s":0.469,"v":0.818},{"s":0.476,"v":0.818},{"s":0.489,"v":0.818},{"s":0.495,"v":0.818},{"s":0.5,"v":0.818},
{"s":0.025,"v":0.727},{"s":0.03,"v":0.727},{"s":0.035,"v":0.727},{"s":0.04,"v":0.727},{"s":0.045,"v":0.727},{"s":0.05,"v":0.727},{"s":0.056,"v":0.727},{"s":0.072,"v":0.727},{"s":0.108,"v":0.727},{"s":0.133,"v":0.727},{"s":0.164,"v":0.727},{"s":0.226,"v":0.727},{"s":0.257,"v":0.727},{"s":0.35,"v":0.727},{"s":0.356,"v":0.727},{"s":0.427,"v":0.727},{"s":0.43,"v":0.727},{"s":0.441,"v":0.727},{"s":0.462,"v":0.727},{"s":0.466,"v":0.727},{"s":0.477,"v":0.727},{"s":0.489,"v":0.727},
{"s":0.024,"v":0.636},{"s":0.047,"v":0.636},{"s":0.053,"v":0.636},{"s":0.057,"v":0.636},{"s":0.062,"v":0.636},{"s":0.489,"v":0.636},
{"s":0.013,"v":0.545},{"s":0.037,"v":0.545},{"s":0.04,"v":0.455},
{"s":0.004,"v":0.364},{"s":0.01,"v":0.364},{"s":0.034,"v":0.364},{"s":0.04,"v":0.364},{"s":0.059,"v":0.364},
{"s":0.058,"v":0.273},{"s":0.026,"v":0.182},{"s":0.02,"v":0.091},{"s":0.029,"v":0.091},
{"s":0,"v":0},{"s":0.003,"v":0},{"s":0.006,"v":0},{"s":0.009,"v":0},{"s":0.012,"v":0},{"s":0.015,"v":0},{"s":0.018,"v":0},{"s":0.021,"v":0},{"s":0.024,"v":0},{"s":0.027,"v":0},{"s":0.043,"v":0},{"s":0.049,"v":0},{"s":0.055,"v":0}
]
},
"columns":2,
"bounds":"flush",
"spacing":{"row":31,"column":45},
"concat":[
{
 "width":294,"height":61,
 "title":{"text":"A","dx":-46,"offset":25},
 "layer":[
  {
   "data":{"name":"heat"},
   "transform":[
    {"calculate":"datum.p + 0.5","as":"p2"},
    {"calculate":"datum.m == 'OD' ? 1.04 : 0","as":"y0"},
    {"calculate":"datum.m == 'OD' ? 2 : 0.96","as":"y1"}
   ],
   "mark":{"type":"rect"},
   "encoding":{
    "x":{"field":"p","type":"quantitative","scale":{"domain":[-2.5,52.5],"nice":false,"zero":false,"range":[14,528]},"axis":{"values":[0,10,20,30,40,50],"title":"genomic position (Mb)","titlePadding":3}},
    "x2":{"field":"p2"},
    "y":{"field":"y0","type":"quantitative","scale":{"domain":[-1.214,3.143],"nice":false,"zero":false},"axis":null},
    "y2":{"field":"y1"},
    "color":{"field":"v","type":"quantitative","scale":{"scheme":"viridis","domain":[0,1]},
     "legend":{"orient":"none","legendX":549,"legendY":-27,"direction":"vertical","title":["proportion classified","as \u201cunder selection\u201d"],"values":[0,0.25,0.5,0.75,1],"format":".2f","gradientLength":68,"gradientThickness":14,"gradientStrokeWidth":0,"titlePadding":8,"labelOffset":3,"labelFontSize":10.4,"titleFontSize":10.4,"titleFontWeight":"normal","titleLineHeight":10.5,"labelFlush":false,"labelOverlap":false}}
   }
  },
  {
   "data":{"name":"heat"},
   "transform":[
    {"filter":"datum.p == 0"},
    {"calculate":"datum.m == 'OD' ? 'object detection' : 'local ancestry outlier'","as":"label"},
    {"calculate":"datum.m == 'OD' ? 2.5 : -0.5","as":"ly"}
   ],
   "mark":{"type":"text","align":"left","baseline":"middle","fontSize":10.4,"color":"#000","dx":2},
   "encoding":{"x":{"field":"p","type":"quantitative"},"y":{"field":"ly","type":"quantitative"},"text":{"field":"label"}}
  },
  {
   "data":{"values":[{"site":25}]},
   "mark":{"type":"rule","color":"#e8453c","strokeDash":[4,3],"strokeWidth":1.2},
   "encoding":{"x":{"field":"site","type":"quantitative"}}
  }
 ]
},
{"width":294,"height":82,"data":{"values":[]},"mark":"point"},
{
 "width":294,"height":259,
 "title":{"text":"B","dx":-47,"offset":5},
 "data":{"name":"pl"},
 "transform":[{"calculate":"'local ancestry outlier'","as":"method"}],
 "mark":{"type":"point","shape":"circle","filled":false,"size":14,"strokeWidth":0.75,"opacity":1},
 "encoding":{
  "x":{"field":"s","type":"quantitative","scale":{"domain":[-0.025,0.525],"nice":false,"zero":false},"axis":{"values":[0,0.1,0.2,0.3,0.4,0.5],"format":".1f","title":null}},
  "y":{"field":"v","type":"quantitative","scale":{"domain":[-0.05,1.05],"nice":false,"zero":false},"axis":{"values":[0,0.25,0.5,0.75,1],"format":".2f","title":"Precision"}},
  "stroke":{"field":"method","type":"nominal","scale":{"domain":["local ancestry outlier","object detection"],"range":["#2a5fa8","#d33b2f"]},
   "legend":{"orient":"none","legendX":642,"legendY":383,"title":"method","titleFontSize":11.2,"titleFontWeight":"normal","titlePadding":5,"labelFontSize":10.4,"symbolType":"circle","symbolSize":16,"symbolStrokeWidth":0.8,"rowPadding":1.5,"labelOffset":3}}
 }
},
{
 "width":294,"height":259,
 "title":{"text":"C","dx":-41,"offset":5},
 "data":{"name":"po"},
 "transform":[{"calculate":"'object detection'","as":"method"}],
 "mark":{"type":"point","shape":"circle","filled":false,"size":14,"strokeWidth":0.75,"opacity":1},
 "encoding":{
  "x":{"field":"s","type":"quantitative","scale":{"domain":[-0.025,0.525],"nice":false,"zero":false},"axis":{"values":[0,0.1,0.2,0.3,0.4,0.5],"format":".1f","title":null}},
  "y":{"field":"v","type":"quantitative","scale":{"domain":[-0.05,1.05],"nice":false,"zero":false},"axis":{"values":[0,0.25,0.5,0.75,1],"format":".2f","title":"Precision"}},
  "stroke":{"field":"method","type":"nominal","scale":{"domain":["local ancestry outlier","object detection"],"range":["#2a5fa8","#d33b2f"]}}
 }
},
{
 "width":294,"height":259,
 "title":{"text":"D","dx":-47,"offset":2},
 "data":{"name":"rl"},
 "transform":[{"calculate":"'local ancestry outlier'","as":"method"}],
 "mark":{"type":"point","shape":"circle","filled":false,"size":14,"strokeWidth":0.75,"opacity":1},
 "encoding":{
  "x":{"field":"s","type":"quantitative","scale":{"domain":[-0.025,0.525],"nice":false,"zero":false},"axis":{"values":[0,0.1,0.2,0.3,0.4,0.5],"format":".1f","title":"selection coefficient (s)"}},
  "y":{"field":"v","type":"quantitative","scale":{"domain":[-0.05,1.05],"nice":false,"zero":false},"axis":{"values":[0,0.25,0.5,0.75,1],"format":".2f","title":"Recall"}},
  "stroke":{"field":"method","type":"nominal","scale":{"domain":["local ancestry outlier","object detection"],"range":["#2a5fa8","#d33b2f"]}}
 }
},
{
 "width":294,"height":259,
 "title":{"text":"E","dx":-41,"offset":2},
 "data":{"name":"ro"},
 "transform":[{"calculate":"'object detection'","as":"method"}],
 "mark":{"type":"point","shape":"circle","filled":false,"size":14,"strokeWidth":0.75,"opacity":1},
 "encoding":{
  "x":{"field":"s","type":"quantitative","scale":{"domain":[-0.025,0.525],"nice":false,"zero":false},"axis":{"values":[0,0.1,0.2,0.3,0.4,0.5],"format":".1f","title":"selection coefficient (s)"}},
  "y":{"field":"v","type":"quantitative","scale":{"domain":[-0.05,1.05],"nice":false,"zero":false},"axis":{"values":[0,0.25,0.5,0.75,1],"format":".2f","title":"Recall"}},
  "stroke":{"field":"method","type":"nominal","scale":{"domain":["local ancestry outlier","object detection"],"range":["#2a5fa8","#d33b2f"]}}
 }
},
{
 "width":294,"height":16,
 "data":{"values":[{"label":"Local Ancestry Outlier"}]},
 "mark":{"type":"text","fontSize":14.4,"fontWeight":"bold","color":"#2a5fa8","baseline":"middle","dy":4.7},
 "encoding":{"text":{"field":"label"}}
},
{
 "width":294,"height":16,
 "data":{"values":[{"label":"Object Detection"}]},
 "mark":{"type":"text","fontSize":14.4,"fontWeight":"bold","color":"#d33b2f","baseline":"middle","dy":4.7},
 "encoding":{"text":{"field":"label"}}
}
]
}
